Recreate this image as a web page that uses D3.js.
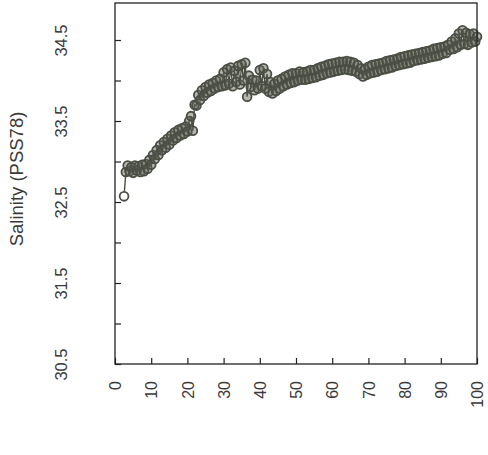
<!DOCTYPE html>
<html>
<head>
<meta charset="utf-8">
<script src="https://cdn.jsdelivr.net/npm/d3@7"></script>
<style>
  html, body { margin: 0; padding: 0; background: #fff; }
  svg { display: block; }
  text { font-family: "Liberation Sans", Arial, sans-serif; }
</style>
</head>
<body>
<svg id="chart" width="488" height="455"></svg>
<script>
// ---- data ----
const depth = [2.5,3,3.5,4,4.5,5,5.5,6,6.5,7,7.5,8,8.5,9,9.5,10,10.5,11,11.5,12,12.5,13,13.5,14,14.5,15,15.5,16,16.5,17,17.5,18,18.5,19,19.5,20,20.5,21,21.5,22,22.5,23,23.5,24,24.5,25,25.5,26,26.5,27,27.5,28,28.5,29,29.5,30,30.5,31,31.5,32,32.5,33,33.5,34,34.5,35,35.5,36,36.5,37,37.5,38,38.5,39,39.5,40,40.5,41,41.5,42,42.5,43,43.5,44,44.5,45,45.5,46,46.5,47,47.5,48,48.5,49,49.5,50,50.5,51,51.5,52,52.5,53,53.5,54,54.5,55,55.5,56,56.5,57,57.5,58,58.5,59,59.5,60,60.5,61,61.5,62,62.5,63,63.5,64,64.5,65,65.5,66,66.5,67,67.5,68,68.5,69,69.5,70,70.5,71,71.5,72,72.5,73,73.5,74,74.5,75,75.5,76,76.5,77,77.5,78,78.5,79,79.5,80,80.5,81,81.5,82,82.5,83,83.5,84,84.5,85,85.5,86,86.5,87,87.5,88,88.5,89,89.5,90,90.5,91,91.5,92,92.5,93,93.5,94,94.5,95,95.5,96,96.5,97,97.5,98,98.5,99,99.5,100];
const salinity = [32.57,32.87,32.95,32.88,32.93,32.86,32.95,32.89,32.94,32.87,32.96,32.88,32.97,32.91,33.02,32.96,33.08,33.03,33.14,33.08,33.20,33.14,33.24,33.17,33.28,33.21,33.32,33.26,33.36,33.29,33.39,33.32,33.41,33.34,33.43,33.37,33.50,33.56,33.38,33.70,33.69,33.82,33.76,33.88,33.81,33.92,33.85,33.95,33.87,33.97,33.90,34.00,33.92,34.02,33.93,34.10,33.94,34.14,33.96,34.16,33.93,34.12,33.98,34.18,33.95,34.20,34.00,34.22,33.80,34.06,33.92,34.01,33.88,34.00,33.90,34.13,33.93,34.15,33.90,34.08,33.86,33.98,33.84,33.96,33.87,34.00,33.90,34.02,33.93,34.05,33.95,34.07,33.97,34.09,33.98,34.09,34.00,34.11,34.01,34.10,34.01,34.11,34.02,34.13,34.03,34.13,34.04,34.15,34.06,34.17,34.07,34.18,34.09,34.20,34.10,34.21,34.11,34.22,34.12,34.23,34.13,34.23,34.14,34.24,34.13,34.23,34.12,34.22,34.11,34.19,34.08,34.15,34.05,34.14,34.07,34.17,34.09,34.19,34.10,34.20,34.11,34.21,34.13,34.22,34.14,34.24,34.15,34.25,34.16,34.26,34.18,34.27,34.19,34.29,34.20,34.30,34.21,34.31,34.22,34.32,34.24,34.33,34.25,34.34,34.26,34.35,34.27,34.36,34.28,34.37,34.29,34.39,34.30,34.40,34.31,34.41,34.33,34.42,34.34,34.44,34.38,34.48,34.39,34.52,34.41,34.58,34.44,34.62,34.45,34.59,34.44,34.57,34.47,34.58,34.48,34.54];
const xTicks = [0,10,20,30,40,50,60,70,80,90,100];
const yTicks = [30.5,31,31.5,32,32.5,33,33.5,34,34.5];
const yLabels = ["30.5","31.5","32.5","33.5","34.5"];
const yTitle = "Salinity (PSS78)";

// ---- drawing ----
const svg = d3.select("#chart");
const mLeft = 115, mRight = 477, mTop = 3, mBottom = 364;
const x = d3.scaleLinear().domain([0, 100]).range([mLeft, mRight]);
const y = d3.scaleLinear().domain([30.5, 34.5]).range([mBottom, mBottom - 4 * 81]);

const pts = depth.map((d, i) => ({ d, s: salinity[i] }));
const col = "#4a4e43";

// connecting line
svg.append("path")
  .datum(pts)
  .attr("fill", "none")
  .attr("stroke", col)
  .attr("stroke-width", 1.4)
  .attr("d", d3.line().x(p => x(p.d)).y(p => y(p.s)));

// points (open circles; dense overlap reads as a solid band)
svg.append("g").selectAll("circle")
  .data(pts)
  .join("circle")
  .attr("cx", p => x(p.d))
  .attr("cy", p => y(p.s))
  .attr("r", 4.4)
  .attr("fill", (p, i) => i === 0 ? "#fff" : "#5c6054")
  .attr("fill-opacity", (p, i) => i === 0 ? 1 : 0.45)
  .attr("stroke", col)
  .attr("stroke-width", 1.8);

// box
svg.append("rect")
  .attr("x", mLeft).attr("y", mTop)
  .attr("width", mRight - mLeft).attr("height", mBottom - mTop)
  .attr("fill", "none").attr("stroke", "#222").attr("stroke-width", 1.3);

// x axis (inward ticks, rotated labels)
const xAxis = d3.axisBottom(x).tickValues(xTicks).tickSizeInner(-6).tickSizeOuter(0).tickPadding(0).tickFormat(d3.format("d"));
const gx = svg.append("g").attr("transform", `translate(0,${mBottom})`).call(xAxis);
gx.select(".domain").remove();
gx.selectAll(".tick line").attr("stroke", "#222").attr("stroke-width", 1.2);
gx.selectAll(".tick text")
  .attr("transform", "rotate(-90)")
  .attr("x", -17).attr("y", 0).attr("dy", "0.35em")
  .attr("text-anchor", "end")
  .attr("font-size", 16)
  .attr("fill", "#3a3a3a");

// y axis (inward ticks, rotated labels)
const yAxis = d3.axisLeft(y).tickValues(yTicks).tickSizeInner(-6).tickSizeOuter(0)
  .tickFormat(v => yLabels.includes(d3.format(".1f")(v)) ? d3.format(".1f")(v) : "");
const gy = svg.append("g").attr("transform", `translate(${mLeft},0)`).call(yAxis);
gy.select(".domain").remove();
gy.selectAll(".tick line").attr("stroke", "#222").attr("stroke-width", 1.2);
gy.selectAll(".tick text")
  .attr("transform", "rotate(-90)")
  .attr("x", 0).attr("y", -48).attr("dy", "0")
  .attr("text-anchor", "middle")
  .attr("font-size", 16.5)
  .attr("fill", "#3a3a3a");

// y title
svg.append("text")
  .attr("transform", "translate(23,179) rotate(-90)")
  .attr("text-anchor", "middle")
  .attr("font-size", 18.5)
  .attr("fill", "#3a3a3a")
  .text(yTitle);
</script>
</body>
</html>
